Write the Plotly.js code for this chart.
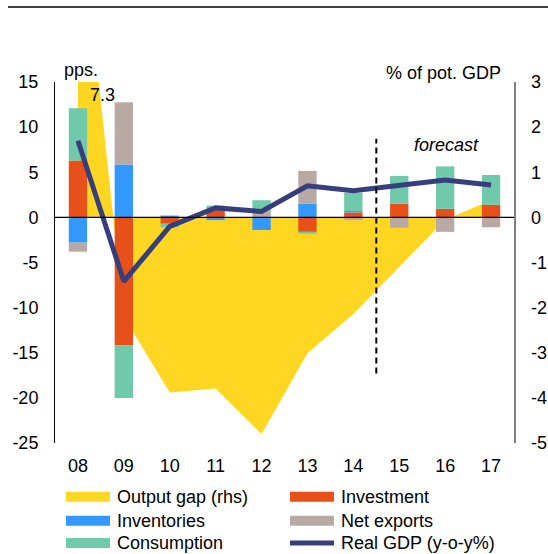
<!DOCTYPE html>
<html>
<head>
<meta charset="utf-8">
<script src="https://cdn.plot.ly/plotly-3.0.1.min.js"></script>
<style>
  html, body { margin: 0; padding: 0; background: #fff; }
  #chart { width: 548px; height: 554px; }
</style>
</head>
<body>
<div id="chart"></div>
<script>
// ---- data ----
const years = ['08', '09', '10', '11', '12', '13', '14', '15', '16', '17'];
const investment  = [6.3, -14.2, -0.7, 0.8, 0.0, -1.6, 0.55, 1.5, 0.95, 1.4];
const inventories = [-2.8, 5.85, 0.2, -0.3, -1.4, 1.5, 0.15, 0.0, 0.0, 0.0];
const netExports  = [-1.0, 6.9, 0.0, 0.0, 0.6, 3.65, -0.3, -1.15, -1.6, -1.1];
const consumption = [5.8, -5.8, -0.4, 0.5, 1.3, -0.2, 2.05, 3.1, 4.7, 3.3];
const realGDP     = [8.5, -7.1, -1.0, 1.05, 0.65, 3.5, 2.95, 3.5, 4.15, 3.6];
const outputGap   = [7.3, -2.2, -3.88, -3.79, -4.8, -3.01, -2.14, -1.1, -0.05, 0.38];

const leftTickVals  = [-25, -20, -15, -10, -5, 0, 5, 10, 15];
const leftTickText  = ['-25', '-20', '-15', '-10', '-5', '0', '5', '10', '15'];
const rightTickVals = [-5, -4, -3, -2, -1, 0, 1, 2, 3];
const rightTickText = ['-5', '-4', '-3', '-2', '-1', '0', '1', '2', '3'];

const outputGapLabel = '7.3';
const lastActualYear = '14';          // forecast divider sits just after this category
const forecastLineRange = [-17.3, 8.7];

const legendItems = [
  { name: 'Output gap (rhs)',   color: '#FFD622', kind: 'box' },
  { name: 'Investment',         color: '#E8501A', kind: 'box' },
  { name: 'Inventories',        color: '#3399FF', kind: 'box' },
  { name: 'Net exports',        color: '#B8AAA2', kind: 'box' },
  { name: 'Consumption',        color: '#6FC9AA', kind: 'box' },
  { name: 'Real GDP (y-o-y%)',  color: '#363E7C', kind: 'line' }
];
const col = {};
legendItems.forEach(it => col[it.name] = it.color);

// ---- geometry helpers (pixel -> paper) ----
const W = 548, H = 554;
const M = { l: 55, r: 34, t: 82, b: 111 };
const PW = W - M.l - M.r, PH = H - M.t - M.b;
const px2x = px => (px - M.l) / PW;
const px2y = py => (H - M.b - py) / PH;

const FONT = 'Liberation Sans, Arial, Helvetica, sans-serif';
const FS = 18;

function barTrace(name, vals) {
  return {
    type: 'bar', name: name, x: years, y: vals, yaxis: 'y2',
    width: 0.4, marker: { color: col[name], line: { width: 0 } },
    hoverinfo: 'skip'
  };
}

const traces = [
  {
    type: 'scatter', mode: 'none', name: 'Output gap (rhs)',
    x: years, y: outputGap, yaxis: 'y',
    fill: 'tozeroy', fillcolor: col['Output gap (rhs)'],
    line: { width: 0 }, hoverinfo: 'skip'
  },
  barTrace('Investment', investment),
  barTrace('Inventories', inventories),
  barTrace('Net exports', netExports),
  barTrace('Consumption', consumption),
  {
    type: 'scatter', mode: 'lines', name: 'Real GDP (y-o-y%)',
    x: years, y: realGDP, yaxis: 'y2',
    line: { color: col['Real GDP (y-o-y%)'], width: 5 },
    hoverinfo: 'skip'
  }
];

const dividerX = years.indexOf(lastActualYear) + 0.5;   // category-axis position between 14 and 15

const shapes = [
  // top rule
  { type: 'line', xref: 'paper', yref: 'paper', x0: px2x(8), x1: px2x(548), y0: px2y(7), y1: px2y(7),
    line: { color: '#000', width: 1.6 } },
  // zero line
  { type: 'line', xref: 'paper', yref: 'y2', x0: 0, x1: 1, y0: 0, y1: 0,
    line: { color: '#000', width: 1.3 }, layer: 'above' },
  // forecast divider
  { type: 'line', xref: 'x', yref: 'y2', x0: dividerX, x1: dividerX,
    y0: forecastLineRange[0], y1: forecastLineRange[1],
    line: { color: '#000', width: 2, dash: '6px,4px' }, layer: 'above' }
];

const annotations = [
  { text: 'pps.', xref: 'paper', yref: 'paper', x: px2x(62), y: px2y(70), xanchor: 'left', yanchor: 'middle',
    showarrow: false, font: { family: FONT, size: FS, color: '#000' } },
  { text: '% of pot. GDP', xref: 'paper', yref: 'paper', x: px2x(503), y: px2y(73), xanchor: 'right', yanchor: 'middle',
    showarrow: false, font: { family: FONT, size: FS, color: '#000' } },
  { text: outputGapLabel, xref: 'paper', yref: 'paper', x: px2x(102), y: px2y(95), xanchor: 'center', yanchor: 'middle',
    showarrow: false, font: { family: FONT, size: FS, color: '#000' } },
  { text: '<i>forecast</i>', xref: 'paper', yref: 'paper', x: px2x(446), y: px2y(144.5), xanchor: 'center', yanchor: 'middle',
    showarrow: false, font: { family: FONT, size: FS, color: '#000' } }
];

// custom legend: 2 columns x 3 rows
const legCols = [{ sw0: 66, sw1: 110, tx: 115 }, { sw0: 290, sw1: 334, tx: 339 }];
const legRows = [496.7, 520.8, 543];
legendItems.forEach((it, i) => {
  const c = legCols[i % 2], r = legRows[Math.floor(i / 2)];
  if (it.kind === 'box') {
    shapes.push({ type: 'rect', xref: 'paper', yref: 'paper',
      x0: px2x(c.sw0), x1: px2x(c.sw1), y0: px2y(r + 5), y1: px2y(r - 5),
      fillcolor: it.color, line: { width: 0 } });
  } else {
    shapes.push({ type: 'line', xref: 'paper', yref: 'paper',
      x0: px2x(c.sw0), x1: px2x(c.sw1), y0: px2y(r), y1: px2y(r),
      line: { color: it.color, width: 5 } });
  }
  annotations.push({ text: it.name, xref: 'paper', yref: 'paper', x: px2x(c.tx), y: px2y(r),
    xanchor: 'left', yanchor: 'middle', showarrow: false,
    font: { family: FONT, size: FS, color: '#000' } });
});

const layout = {
  width: W, height: H,
  margin: { l: M.l, r: M.r, t: M.t, b: M.b, pad: 0 },
  paper_bgcolor: '#fff', plot_bgcolor: 'rgba(0,0,0,0)',
  showlegend: false,
  barmode: 'relative',
  font: { family: FONT, size: FS, color: '#000' },
  xaxis: {
    type: 'category', range: [-0.5, 9.5], showline: false, ticks: '',
    showgrid: false, zeroline: false, tickfont: { family: FONT, size: FS, color: '#000' },
    ticklabelstandoff: 10
  },
  yaxis: {
    side: 'right', range: [-5, 3], tickvals: rightTickVals, ticktext: rightTickText,
    showline: true, linecolor: '#808080', linewidth: 1.5, ticks: '',
    showgrid: false, zeroline: false, tickfont: { family: FONT, size: FS, color: '#000' },
    ticklabelstandoff: 12
  },
  yaxis2: {
    overlaying: 'y', side: 'left', range: [-25, 15], tickvals: leftTickVals, ticktext: leftTickText,
    showline: true, linecolor: '#000', linewidth: 1, ticks: '',
    showgrid: false, zeroline: false, tickfont: { family: FONT, size: FS, color: '#000' },
    ticklabelstandoff: 12
  },
  shapes: shapes,
  annotations: annotations
};

Plotly.newPlot('chart', traces, layout, { displayModeBar: false, staticPlot: true });
</script>
</body>
</html>
